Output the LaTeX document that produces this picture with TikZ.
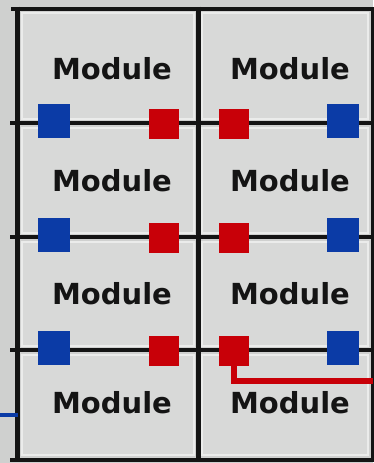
\documentclass[tikz,border=0pt]{standalone}
\usepackage{fontspec}
\newfontfamily\modfont{DejaVu Sans}
\definecolor{bg}{HTML}{CFD0CF}
\definecolor{boxfill}{HTML}{D8D9D8}
\definecolor{boxedge}{HTML}{EBECEB}
\definecolor{pblue}{HTML}{0B3BA6}
\definecolor{pred}{HTML}{C80008}
\definecolor{framecol}{HTML}{141414}
\begin{document}
\begin{tikzpicture}[x=1pt,y=-1pt,
  modbox/.style={draw=boxedge, line width=2pt, fill=boxfill, minimum width=#1, inner sep=0pt},
  modtext/.style={font=\modfont\bfseries\fontsize{29}{30}\selectfont, text=framecol, inner sep=0pt},
  gridline/.style={draw=framecol, line width=4pt},
  vline/.style={draw=framecol, line width=5pt},
  bluesq/.style={fill=pblue, draw=none, minimum width=32pt, minimum height=34pt, inner sep=0pt},
  redsq/.style={fill=pred, draw=none, minimum width=30pt, minimum height=30pt, inner sep=0pt},
  redwire/.style={draw=pred, line width=5.5pt},
  bluewire/.style={draw=pblue, line width=3.5pt}]
\useasboundingbox (0,0) rectangle (373,463);
\fill[bg] (0,0) rectangle (373,463);
% module boxes
\foreach \i/\cy/\h in {1/65.5/106, 2/180/105, 3/293.5/104, 4/404.5/100} {
  \node[modbox=172pt, minimum height=\h pt] (mL\i) at (107.5,\cy) {};
  \node[modbox=166pt, minimum height=\h pt] (mR\i) at (285,\cy) {};
}
% texts
\foreach \i/\ty in {1/69, 2/181, 3/294, 4/403} {
  \node[modtext] (tL\i) at (112,\ty) {Module};
  \node[modtext] (tR\i) at (290,\ty) {Module};
}
% frame and grid
\coordinate (topL) at (11,8.5);   \coordinate (topR) at (373,8.5);
\coordinate (botL) at (10,459.5); \coordinate (botR) at (373,459.5);
\draw[gridline] (topL) -- (topR);
\draw[gridline] (botL) -- (botR);
\foreach \i/\ly in {1/123, 2/237, 3/350} {
  \coordinate (hL\i) at (10,\ly);
  \coordinate (hR\i) at (373,\ly);
  \draw[gridline] (hL\i) -- (hR\i);
}
\coordinate (v1t) at (17.5,6.5);  \coordinate (v1b) at (17.5,461.5);
\coordinate (v2t) at (198,6.5);   \coordinate (v2b) at (198,461.5);
\coordinate (v3t) at (373.5,6.5); \coordinate (v3b) at (373.5,461.5);
\draw[vline] (v1t) -- (v1b);
\draw[vline] (v2t) -- (v2b);
\draw[vline] (v3t) -- (v3b);
% ports
\foreach \i/\ly in {1/123, 2/237, 3/350} {
  \node[bluesq] (bL\i) at (54,\ly-2) {};
  \node[redsq]  (rL\i) at (164,\ly+1) {};
  \node[redsq]  (rR\i) at (234,\ly+1) {};
  \node[bluesq] (bR\i) at (343,\ly-2) {};
}
% external wires
\coordinate (redEnd) at (373,381);
\draw[redwire] (rR3.south) |- (redEnd);
\coordinate (blueStart) at (0,415);
\coordinate (blueEnd) at (17.5,415);
\draw[bluewire] (blueStart) -- (blueEnd);
\end{tikzpicture}
\end{document}
